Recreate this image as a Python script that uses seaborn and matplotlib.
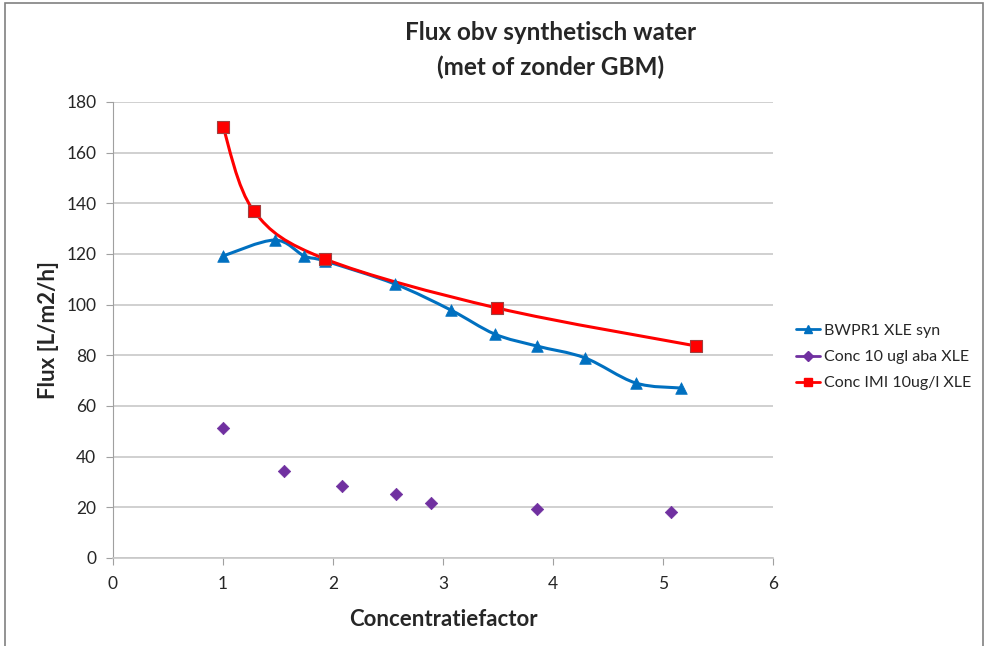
import numpy as np
import matplotlib
matplotlib.use("Agg")
import matplotlib.pyplot as plt
from matplotlib.path import Path
from matplotlib.patches import PathPatch
from matplotlib.lines import Line2D
import seaborn as sns
import pandas as pd

sns.set_style("white")
plt.rcParams['font.family'] = ['Lato', 'DejaVu Sans']

bw_x = [1.0, 1.47, 1.74, 1.93, 2.56, 3.07, 3.47, 3.85, 4.29, 4.75, 5.16]
bw_y = [119.2, 125.5, 119.2, 117.2, 108.2, 97.9, 88.4, 83.7, 79.0, 69.1, 67.1]

aba_x = [1.0, 1.55, 2.08, 2.57, 2.89, 3.85, 5.07]
aba_y = [51.3, 34.3, 28.4, 25.3, 21.7, 19.3, 18.2]

imi_x = [1.0, 1.28, 1.93, 3.49, 5.3]
imi_y = [170.2, 137.0, 118.0, 98.7, 83.7]

names = ["BWPR1 XLE syn", "Conc 10 ugl aba XLE", "Conc IMI 10ug/l XLE"]
colors = ["#0070C0", "#7030A0", "#FF0000"]

fig = plt.figure(figsize=(9.92, 6.46), dpi=100)
ax = fig.add_axes([113/992, 88/646, 660/992, 456/646])

def smooth_path(xs, ys, ax):
    # Excel-style smoothed line: Catmull-Rom converted to cubic Bezier in display space
    pts = ax.transData.transform(np.column_stack([xs, ys]))
    n = len(pts)
    verts = [pts[0]]
    codes = [Path.MOVETO]
    for i in range(n - 1):
        p0 = pts[i - 1] if i > 0 else pts[i]
        p1 = pts[i]
        p2 = pts[i + 1]
        p3 = pts[i + 2] if i + 2 < n else pts[i + 1]
        c1 = p1 + (p2 - p0) / 6.0
        c2 = p2 - (p3 - p1) / 6.0
        verts += [c1, c2, p2]
        codes += [Path.CURVE4] * 3
    verts = ax.transData.inverted().transform(np.array(verts))
    return Path(verts, codes)

ax.set_xlim(0, 6)
ax.set_ylim(0, 180)
ax.set_xticks(range(0, 7))
ax.set_yticks(range(0, 181, 20))

ax.add_patch(PathPatch(smooth_path(bw_x, bw_y, ax), fill=False, edgecolor=colors[0], lw=2.2, zorder=3))
ax.add_patch(PathPatch(smooth_path(imi_x, imi_y, ax), fill=False, edgecolor=colors[2], lw=2.2, zorder=4))

df_bw = pd.DataFrame({"x": bw_x, "y": bw_y})
df_aba = pd.DataFrame({"x": aba_x, "y": aba_y})
df_imi = pd.DataFrame({"x": imi_x, "y": imi_y})
sns.scatterplot(data=df_bw, x="x", y="y", ax=ax, marker="^", s=70, color=colors[0], edgecolor=colors[0], linewidth=0.5, zorder=5)
sns.scatterplot(data=df_aba, x="x", y="y", ax=ax, marker="D", s=40, color=colors[1], edgecolor=colors[1], linewidth=0.5, zorder=5)
sns.scatterplot(data=df_imi, x="x", y="y", ax=ax, marker="s", s=75, color=colors[2], edgecolor="#A04040", linewidth=0.8, zorder=6)

ax.grid(axis='y', color='#C8C8C8', lw=1.2)
ax.grid(axis='x', visible=False)
for s in ['top', 'right']:
    ax.spines[s].set_visible(False)
ax.spines['left'].set_color('#A0A0A0')
ax.spines['bottom'].set_color('#C8C8C8')
ax.spines['bottom'].set_linewidth(1.2)
ax.tick_params(axis='both', which='both', length=5, color='#A0A0A0', labelsize=12.5, direction='out',
               bottom=True, left=True)
ax.tick_params(axis='x', pad=8)
ax.tick_params(axis='y', pad=7)

ax.set_xlabel("Concentratiefactor", fontsize=16, fontweight='bold', labelpad=12)
ax.set_ylabel("Flux [L/m2/h]", fontsize=16, fontweight='bold', labelpad=5)

fig.text(551/992, 1 - 32/646, "Flux obv synthetisch water", ha='center', va='center', fontsize=17.5, fontweight='bold')
fig.text(551/992, 1 - 67/646, "(met of zonder GBM)", ha='center', va='center', fontsize=17.5, fontweight='bold')

handles = [
    Line2D([0], [0], color=colors[0], lw=2, marker='^', markersize=6),
    Line2D([0], [0], color=colors[1], lw=2, marker='D', markersize=5),
    Line2D([0], [0], color=colors[2], lw=2, marker='s', markersize=6),
]
fig.legend(handles, names, loc='center left', bbox_to_anchor=(782/992, 1 - 357/646),
           frameon=False, fontsize=11.5, handlelength=1.5, handletextpad=0.2, labelspacing=0.75)

# outer chart border
border = plt.Rectangle((5/992, -0.01), 978/992, 1 - 3/646 + 0.01, transform=fig.transFigure,
                       fill=False, edgecolor='#808080', lw=1.2)
fig.add_artist(border)

fig.savefig("out.png", dpi=100)
